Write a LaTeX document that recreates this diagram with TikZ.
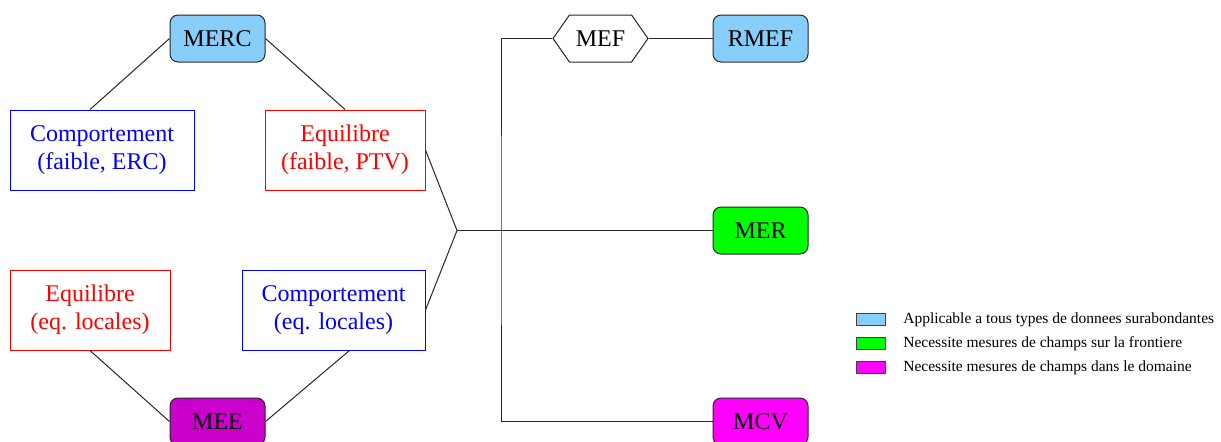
\documentclass[tikz,border=0pt]{standalone}
\usepackage{fontspec}
\setmainfont{Liberation Serif}
\usetikzlibrary{shapes.symbols}
\definecolor{bleuclair}{HTML}{87CEFA}
\definecolor{mauve}{HTML}{CC00CC}
\definecolor{vert}{HTML}{00FF00}
\definecolor{rose}{HTML}{FF00FF}
\tikzset{
  methode/.style={draw=black!85, line width=0.5pt, rounded corners=4pt,
    minimum width=47.5pt, minimum height=23.5pt, inner sep=0pt,
    font=\fontsize{12}{14}\selectfont},
  loi/.style={draw, line width=0.5pt, minimum height=40pt, inner sep=0pt,
    align=center, font=\fontsize{12}{14}\selectfont},
  legende/.style={draw=black!75, line width=0.5pt, minimum width=14.5pt,
    minimum height=6pt, inner sep=0pt},
  lien/.style={draw=black!85, line width=0.5pt}
}
\begin{document}
\begin{tikzpicture}[x=0.5pt,y=-0.5pt]
\useasboundingbox (0,0) rectangle (1221,441);
% methodes
\node[methode,fill=bleuclair] (merc) at (217.5,38.5) {MERC};
\node[methode,fill=mauve] (mee) at (217.5,421.5) {MEE};
\node[draw=black!85, line width=0.5pt, fill=white, signal, signal to=east and west,
  signal pointer angle=110, minimum width=47.5pt, minimum height=23.5pt,
  inner sep=0pt, font=\fontsize{12}{14}\selectfont] (mef) at (600.5,38.5) {MEF};
\node[methode,fill=bleuclair] (rmef) at (760.5,38.5) {RMEF};
\node[methode,fill=vert] (mer) at (760.5,230.5) {MER};
\node[methode,fill=rose] (mcv) at (760.5,421.5) {MCV};
% lois
\node[loi,draw=blue,text=blue,minimum width=92pt] (cf) at (102,150) {Comportement\\(faible, ERC)};
\node[loi,draw=red,text=red,minimum width=80pt] (ef) at (345,150) {Equilibre\\(faible, PTV)};
\node[loi,draw=red,text=red,minimum width=80pt] (el) at (90,310) {Equilibre\\(eq. locales)};
\node[loi,draw=blue,text=blue,minimum width=91.5pt] (cl) at (333.5,310) {Comportement\\(eq. locales)};
% liens
\coordinate (hub) at (457,230.5);
\coordinate (tronc) at (501,230.5);
\draw[lien] (merc.west) -- ([xshift=-6pt]cf.north);
\draw[lien] (merc.east) -- (ef.north);
\draw[lien] (ef.east) -- (hub);
\draw[lien] (cl.east) -- (hub);
\draw[lien] (hub) -- (mer.west);
\draw[lien] (mef.west) -| (tronc) |- (mcv.west);
\draw[lien] (mef.east) -- (rmef.west);
\draw[lien] (el.south) -- (mee.west);
\draw[lien] ([xshift=8pt]cl.south) -- (mee.east);
% legende
\foreach \c/\t [count=\i] in {bleuclair/Applicable a tous types de donnees surabondantes,
    vert/Necessite mesures de champs sur la frontiere,
    rose/Necessite mesures de champs dans le domaine} {
  \node[legende,fill=\c] (leg\i) at (870.5,295+24*\i) {};
  \node[anchor=west,inner sep=0pt,font=\fontsize{7.75}{9}\selectfont] (txt\i) at (903,296+24*\i) {\t};
}
\end{tikzpicture}
\end{document}
